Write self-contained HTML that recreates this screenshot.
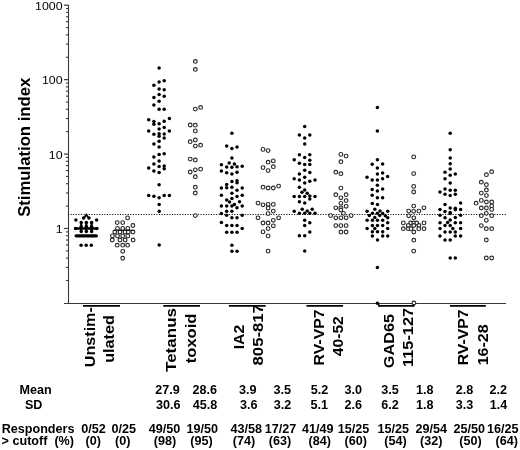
<!DOCTYPE html><html><head><meta charset="utf-8"><style>html,body{margin:0;padding:0;background:#fff;}svg{display:block;}text{font-family:"Liberation Sans",Arial,sans-serif;fill:#000;}</style></head><body>
<svg width="520" height="450" viewBox="0 0 520 450">
<rect width="520" height="450" fill="#fff"/>
<text transform="translate(29.6,147.3) rotate(-90)" text-anchor="middle" font-weight="bold" font-size="16.7">Stimulation index</text>
<line x1="68.5" y1="4.70" x2="68.5" y2="304" stroke="#3a3a3a" stroke-width="1.1"/>
<line x1="64" y1="303.5" x2="506" y2="303.5" stroke="#3a3a3a" stroke-width="1.2"/>
<line x1="64" y1="5.20" x2="68.5" y2="5.20" stroke="#3a3a3a" stroke-width="1.2"/>
<line x1="65.9" y1="57.22" x2="68.5" y2="57.22" stroke="#3a3a3a" stroke-width="1.1"/>
<line x1="65.9" y1="44.12" x2="68.5" y2="44.12" stroke="#3a3a3a" stroke-width="1.1"/>
<line x1="65.9" y1="34.82" x2="68.5" y2="34.82" stroke="#3a3a3a" stroke-width="1.1"/>
<line x1="65.9" y1="27.61" x2="68.5" y2="27.61" stroke="#3a3a3a" stroke-width="1.1"/>
<line x1="65.9" y1="21.71" x2="68.5" y2="21.71" stroke="#3a3a3a" stroke-width="1.1"/>
<line x1="65.9" y1="16.73" x2="68.5" y2="16.73" stroke="#3a3a3a" stroke-width="1.1"/>
<line x1="65.9" y1="12.41" x2="68.5" y2="12.41" stroke="#3a3a3a" stroke-width="1.1"/>
<line x1="65.9" y1="8.61" x2="68.5" y2="8.61" stroke="#3a3a3a" stroke-width="1.1"/>
<line x1="64" y1="79.63" x2="68.5" y2="79.63" stroke="#3a3a3a" stroke-width="1.2"/>
<line x1="65.9" y1="131.65" x2="68.5" y2="131.65" stroke="#3a3a3a" stroke-width="1.1"/>
<line x1="65.9" y1="118.55" x2="68.5" y2="118.55" stroke="#3a3a3a" stroke-width="1.1"/>
<line x1="65.9" y1="109.25" x2="68.5" y2="109.25" stroke="#3a3a3a" stroke-width="1.1"/>
<line x1="65.9" y1="102.04" x2="68.5" y2="102.04" stroke="#3a3a3a" stroke-width="1.1"/>
<line x1="65.9" y1="96.14" x2="68.5" y2="96.14" stroke="#3a3a3a" stroke-width="1.1"/>
<line x1="65.9" y1="91.16" x2="68.5" y2="91.16" stroke="#3a3a3a" stroke-width="1.1"/>
<line x1="65.9" y1="86.84" x2="68.5" y2="86.84" stroke="#3a3a3a" stroke-width="1.1"/>
<line x1="65.9" y1="83.04" x2="68.5" y2="83.04" stroke="#3a3a3a" stroke-width="1.1"/>
<line x1="64" y1="154.06" x2="68.5" y2="154.06" stroke="#3a3a3a" stroke-width="1.2"/>
<line x1="65.9" y1="206.08" x2="68.5" y2="206.08" stroke="#3a3a3a" stroke-width="1.1"/>
<line x1="65.9" y1="192.98" x2="68.5" y2="192.98" stroke="#3a3a3a" stroke-width="1.1"/>
<line x1="65.9" y1="183.68" x2="68.5" y2="183.68" stroke="#3a3a3a" stroke-width="1.1"/>
<line x1="65.9" y1="176.47" x2="68.5" y2="176.47" stroke="#3a3a3a" stroke-width="1.1"/>
<line x1="65.9" y1="170.57" x2="68.5" y2="170.57" stroke="#3a3a3a" stroke-width="1.1"/>
<line x1="65.9" y1="165.59" x2="68.5" y2="165.59" stroke="#3a3a3a" stroke-width="1.1"/>
<line x1="65.9" y1="161.27" x2="68.5" y2="161.27" stroke="#3a3a3a" stroke-width="1.1"/>
<line x1="65.9" y1="157.47" x2="68.5" y2="157.47" stroke="#3a3a3a" stroke-width="1.1"/>
<line x1="64" y1="228.49" x2="68.5" y2="228.49" stroke="#3a3a3a" stroke-width="1.2"/>
<line x1="65.9" y1="280.51" x2="68.5" y2="280.51" stroke="#3a3a3a" stroke-width="1.1"/>
<line x1="65.9" y1="267.41" x2="68.5" y2="267.41" stroke="#3a3a3a" stroke-width="1.1"/>
<line x1="65.9" y1="258.11" x2="68.5" y2="258.11" stroke="#3a3a3a" stroke-width="1.1"/>
<line x1="65.9" y1="250.90" x2="68.5" y2="250.90" stroke="#3a3a3a" stroke-width="1.1"/>
<line x1="65.9" y1="245.00" x2="68.5" y2="245.00" stroke="#3a3a3a" stroke-width="1.1"/>
<line x1="65.9" y1="240.02" x2="68.5" y2="240.02" stroke="#3a3a3a" stroke-width="1.1"/>
<line x1="65.9" y1="235.70" x2="68.5" y2="235.70" stroke="#3a3a3a" stroke-width="1.1"/>
<line x1="65.9" y1="231.90" x2="68.5" y2="231.90" stroke="#3a3a3a" stroke-width="1.1"/>
<text transform="translate(62.6,9.80) scale(1.07,1)" text-anchor="end" font-size="11.6">1000</text>
<text transform="translate(62.6,84.23) scale(1.07,1)" text-anchor="end" font-size="11.6">100</text>
<text transform="translate(62.6,158.66) scale(1.07,1)" text-anchor="end" font-size="11.6">10</text>
<text transform="translate(62.6,233.09) scale(1.07,1)" text-anchor="end" font-size="11.6">1</text>
<line x1="67.9" y1="214.5" x2="506.5" y2="214.5" stroke="#111" stroke-width="1.05" stroke-dasharray="1.15 1.45"/>
<circle cx="127.6" cy="217.9" r="1.85" fill="#fff" stroke="#2a2a2a" stroke-width="1.15"/>
<circle cx="117.2" cy="222.6" r="1.85" fill="#fff" stroke="#2a2a2a" stroke-width="1.15"/>
<circle cx="122.7" cy="222.6" r="1.85" fill="#fff" stroke="#2a2a2a" stroke-width="1.15"/>
<circle cx="132.9" cy="225.5" r="1.85" fill="#fff" stroke="#2a2a2a" stroke-width="1.15"/>
<circle cx="117.5" cy="228.4" r="1.85" fill="#fff" stroke="#2a2a2a" stroke-width="1.15"/>
<circle cx="122.7" cy="228.4" r="1.85" fill="#fff" stroke="#2a2a2a" stroke-width="1.15"/>
<circle cx="127.8" cy="228.4" r="1.85" fill="#fff" stroke="#2a2a2a" stroke-width="1.15"/>
<circle cx="114.8" cy="232" r="1.85" fill="#fff" stroke="#2a2a2a" stroke-width="1.15"/>
<circle cx="120" cy="232" r="1.85" fill="#fff" stroke="#2a2a2a" stroke-width="1.15"/>
<circle cx="125.1" cy="232" r="1.85" fill="#fff" stroke="#2a2a2a" stroke-width="1.15"/>
<circle cx="128.3" cy="232" r="1.85" fill="#fff" stroke="#2a2a2a" stroke-width="1.15"/>
<circle cx="132.9" cy="232" r="1.85" fill="#fff" stroke="#2a2a2a" stroke-width="1.15"/>
<circle cx="112.4" cy="235.9" r="1.85" fill="#fff" stroke="#2a2a2a" stroke-width="1.15"/>
<circle cx="117.5" cy="235.9" r="1.85" fill="#fff" stroke="#2a2a2a" stroke-width="1.15"/>
<circle cx="122.7" cy="235.9" r="1.85" fill="#fff" stroke="#2a2a2a" stroke-width="1.15"/>
<circle cx="127.8" cy="235.9" r="1.85" fill="#fff" stroke="#2a2a2a" stroke-width="1.15"/>
<circle cx="112.3" cy="240" r="1.85" fill="#fff" stroke="#2a2a2a" stroke-width="1.15"/>
<circle cx="120" cy="240" r="1.85" fill="#fff" stroke="#2a2a2a" stroke-width="1.15"/>
<circle cx="125.2" cy="240" r="1.85" fill="#fff" stroke="#2a2a2a" stroke-width="1.15"/>
<circle cx="133.1" cy="240" r="1.85" fill="#fff" stroke="#2a2a2a" stroke-width="1.15"/>
<circle cx="117.2" cy="245.2" r="1.85" fill="#fff" stroke="#2a2a2a" stroke-width="1.15"/>
<circle cx="122.7" cy="245.2" r="1.85" fill="#fff" stroke="#2a2a2a" stroke-width="1.15"/>
<circle cx="127.6" cy="245.2" r="1.85" fill="#fff" stroke="#2a2a2a" stroke-width="1.15"/>
<circle cx="122.7" cy="251.3" r="1.85" fill="#fff" stroke="#2a2a2a" stroke-width="1.15"/>
<circle cx="122.7" cy="258.3" r="1.85" fill="#fff" stroke="#2a2a2a" stroke-width="1.15"/>
<circle cx="195.3" cy="61.4" r="1.85" fill="#fff" stroke="#2a2a2a" stroke-width="1.15"/>
<circle cx="195.3" cy="69.4" r="1.85" fill="#fff" stroke="#2a2a2a" stroke-width="1.15"/>
<circle cx="195.3" cy="109.1" r="1.85" fill="#fff" stroke="#2a2a2a" stroke-width="1.15"/>
<circle cx="200.6" cy="107.4" r="1.85" fill="#fff" stroke="#2a2a2a" stroke-width="1.15"/>
<circle cx="190.2" cy="125" r="1.85" fill="#fff" stroke="#2a2a2a" stroke-width="1.15"/>
<circle cx="195.3" cy="125.2" r="1.85" fill="#fff" stroke="#2a2a2a" stroke-width="1.15"/>
<circle cx="195.3" cy="130.9" r="1.85" fill="#fff" stroke="#2a2a2a" stroke-width="1.15"/>
<circle cx="190.2" cy="141.7" r="1.85" fill="#fff" stroke="#2a2a2a" stroke-width="1.15"/>
<circle cx="195.3" cy="140" r="1.85" fill="#fff" stroke="#2a2a2a" stroke-width="1.15"/>
<circle cx="195.3" cy="146.1" r="1.85" fill="#fff" stroke="#2a2a2a" stroke-width="1.15"/>
<circle cx="200.6" cy="145.2" r="1.85" fill="#fff" stroke="#2a2a2a" stroke-width="1.15"/>
<circle cx="190.2" cy="159.1" r="1.85" fill="#fff" stroke="#2a2a2a" stroke-width="1.15"/>
<circle cx="195.3" cy="160" r="1.85" fill="#fff" stroke="#2a2a2a" stroke-width="1.15"/>
<circle cx="195.3" cy="169.8" r="1.85" fill="#fff" stroke="#2a2a2a" stroke-width="1.15"/>
<circle cx="200.6" cy="169.1" r="1.85" fill="#fff" stroke="#2a2a2a" stroke-width="1.15"/>
<circle cx="190.2" cy="172" r="1.85" fill="#fff" stroke="#2a2a2a" stroke-width="1.15"/>
<circle cx="195.3" cy="176.7" r="1.85" fill="#fff" stroke="#2a2a2a" stroke-width="1.15"/>
<circle cx="195.3" cy="187.2" r="1.85" fill="#fff" stroke="#2a2a2a" stroke-width="1.15"/>
<circle cx="195.3" cy="193" r="1.85" fill="#fff" stroke="#2a2a2a" stroke-width="1.15"/>
<circle cx="195.3" cy="215.6" r="1.85" fill="#fff" stroke="#2a2a2a" stroke-width="1.15"/>
<circle cx="263" cy="149.4" r="1.85" fill="#fff" stroke="#2a2a2a" stroke-width="1.15"/>
<circle cx="268.1" cy="150.6" r="1.85" fill="#fff" stroke="#2a2a2a" stroke-width="1.15"/>
<circle cx="268.1" cy="162.2" r="1.85" fill="#fff" stroke="#2a2a2a" stroke-width="1.15"/>
<circle cx="273.3" cy="160.9" r="1.85" fill="#fff" stroke="#2a2a2a" stroke-width="1.15"/>
<circle cx="263" cy="167.6" r="1.85" fill="#fff" stroke="#2a2a2a" stroke-width="1.15"/>
<circle cx="268.1" cy="170.6" r="1.85" fill="#fff" stroke="#2a2a2a" stroke-width="1.15"/>
<circle cx="273.3" cy="166.7" r="1.85" fill="#fff" stroke="#2a2a2a" stroke-width="1.15"/>
<circle cx="263" cy="187.2" r="1.85" fill="#fff" stroke="#2a2a2a" stroke-width="1.15"/>
<circle cx="268.1" cy="188" r="1.85" fill="#fff" stroke="#2a2a2a" stroke-width="1.15"/>
<circle cx="273.3" cy="188" r="1.85" fill="#fff" stroke="#2a2a2a" stroke-width="1.15"/>
<circle cx="278.6" cy="186.1" r="1.85" fill="#fff" stroke="#2a2a2a" stroke-width="1.15"/>
<circle cx="258" cy="203.1" r="1.85" fill="#fff" stroke="#2a2a2a" stroke-width="1.15"/>
<circle cx="263" cy="204.8" r="1.85" fill="#fff" stroke="#2a2a2a" stroke-width="1.15"/>
<circle cx="268.1" cy="204.4" r="1.85" fill="#fff" stroke="#2a2a2a" stroke-width="1.15"/>
<circle cx="273.3" cy="204.4" r="1.85" fill="#fff" stroke="#2a2a2a" stroke-width="1.15"/>
<circle cx="268.1" cy="208" r="1.85" fill="#fff" stroke="#2a2a2a" stroke-width="1.15"/>
<circle cx="273.3" cy="211.1" r="1.85" fill="#fff" stroke="#2a2a2a" stroke-width="1.15"/>
<circle cx="268.1" cy="213.6" r="1.85" fill="#fff" stroke="#2a2a2a" stroke-width="1.15"/>
<circle cx="258" cy="217.8" r="1.85" fill="#fff" stroke="#2a2a2a" stroke-width="1.15"/>
<circle cx="278.6" cy="217.8" r="1.85" fill="#fff" stroke="#2a2a2a" stroke-width="1.15"/>
<circle cx="273.3" cy="220.3" r="1.85" fill="#fff" stroke="#2a2a2a" stroke-width="1.15"/>
<circle cx="263" cy="223" r="1.85" fill="#fff" stroke="#2a2a2a" stroke-width="1.15"/>
<circle cx="268.1" cy="223" r="1.85" fill="#fff" stroke="#2a2a2a" stroke-width="1.15"/>
<circle cx="273.3" cy="225.8" r="1.85" fill="#fff" stroke="#2a2a2a" stroke-width="1.15"/>
<circle cx="268.1" cy="228.6" r="1.85" fill="#fff" stroke="#2a2a2a" stroke-width="1.15"/>
<circle cx="263" cy="231.9" r="1.85" fill="#fff" stroke="#2a2a2a" stroke-width="1.15"/>
<circle cx="268.1" cy="235.9" r="1.85" fill="#fff" stroke="#2a2a2a" stroke-width="1.15"/>
<circle cx="268.1" cy="251.1" r="1.85" fill="#fff" stroke="#2a2a2a" stroke-width="1.15"/>
<circle cx="340.9" cy="154.4" r="1.85" fill="#fff" stroke="#2a2a2a" stroke-width="1.15"/>
<circle cx="346.1" cy="156.1" r="1.85" fill="#fff" stroke="#2a2a2a" stroke-width="1.15"/>
<circle cx="340.9" cy="161.7" r="1.85" fill="#fff" stroke="#2a2a2a" stroke-width="1.15"/>
<circle cx="335.8" cy="172.2" r="1.85" fill="#fff" stroke="#2a2a2a" stroke-width="1.15"/>
<circle cx="340.9" cy="173.7" r="1.85" fill="#fff" stroke="#2a2a2a" stroke-width="1.15"/>
<circle cx="340.9" cy="188.1" r="1.85" fill="#fff" stroke="#2a2a2a" stroke-width="1.15"/>
<circle cx="335.8" cy="194.7" r="1.85" fill="#fff" stroke="#2a2a2a" stroke-width="1.15"/>
<circle cx="346.1" cy="194.7" r="1.85" fill="#fff" stroke="#2a2a2a" stroke-width="1.15"/>
<circle cx="340.9" cy="197.8" r="1.85" fill="#fff" stroke="#2a2a2a" stroke-width="1.15"/>
<circle cx="346.1" cy="200.6" r="1.85" fill="#fff" stroke="#2a2a2a" stroke-width="1.15"/>
<circle cx="340.9" cy="203.3" r="1.85" fill="#fff" stroke="#2a2a2a" stroke-width="1.15"/>
<circle cx="346.1" cy="206.3" r="1.85" fill="#fff" stroke="#2a2a2a" stroke-width="1.15"/>
<circle cx="335.8" cy="207.8" r="1.85" fill="#fff" stroke="#2a2a2a" stroke-width="1.15"/>
<circle cx="340.9" cy="207.8" r="1.85" fill="#fff" stroke="#2a2a2a" stroke-width="1.15"/>
<circle cx="340.9" cy="210" r="1.85" fill="#fff" stroke="#2a2a2a" stroke-width="1.15"/>
<circle cx="343.5" cy="213.3" r="1.85" fill="#fff" stroke="#2a2a2a" stroke-width="1.15"/>
<circle cx="330.6" cy="215.6" r="1.85" fill="#fff" stroke="#2a2a2a" stroke-width="1.15"/>
<circle cx="351.1" cy="215.6" r="1.85" fill="#fff" stroke="#2a2a2a" stroke-width="1.15"/>
<circle cx="335.8" cy="217.8" r="1.85" fill="#fff" stroke="#2a2a2a" stroke-width="1.15"/>
<circle cx="340.9" cy="217.8" r="1.85" fill="#fff" stroke="#2a2a2a" stroke-width="1.15"/>
<circle cx="346.1" cy="217.8" r="1.85" fill="#fff" stroke="#2a2a2a" stroke-width="1.15"/>
<circle cx="335.8" cy="225.6" r="1.85" fill="#fff" stroke="#2a2a2a" stroke-width="1.15"/>
<circle cx="340.9" cy="225.6" r="1.85" fill="#fff" stroke="#2a2a2a" stroke-width="1.15"/>
<circle cx="346.1" cy="225.6" r="1.85" fill="#fff" stroke="#2a2a2a" stroke-width="1.15"/>
<circle cx="340.9" cy="232" r="1.85" fill="#fff" stroke="#2a2a2a" stroke-width="1.15"/>
<circle cx="346.1" cy="232" r="1.85" fill="#fff" stroke="#2a2a2a" stroke-width="1.15"/>
<circle cx="413.7" cy="156.9" r="1.85" fill="#fff" stroke="#2a2a2a" stroke-width="1.15"/>
<circle cx="413.7" cy="173.6" r="1.85" fill="#fff" stroke="#2a2a2a" stroke-width="1.15"/>
<circle cx="413.7" cy="186.4" r="1.85" fill="#fff" stroke="#2a2a2a" stroke-width="1.15"/>
<circle cx="413.7" cy="192" r="1.85" fill="#fff" stroke="#2a2a2a" stroke-width="1.15"/>
<circle cx="413.7" cy="206.1" r="1.85" fill="#fff" stroke="#2a2a2a" stroke-width="1.15"/>
<circle cx="423.9" cy="207.8" r="1.85" fill="#fff" stroke="#2a2a2a" stroke-width="1.15"/>
<circle cx="408.7" cy="211.1" r="1.85" fill="#fff" stroke="#2a2a2a" stroke-width="1.15"/>
<circle cx="413.7" cy="211.3" r="1.85" fill="#fff" stroke="#2a2a2a" stroke-width="1.15"/>
<circle cx="418.9" cy="211.1" r="1.85" fill="#fff" stroke="#2a2a2a" stroke-width="1.15"/>
<circle cx="408.7" cy="215.8" r="1.85" fill="#fff" stroke="#2a2a2a" stroke-width="1.15"/>
<circle cx="413.8" cy="217.8" r="1.85" fill="#fff" stroke="#2a2a2a" stroke-width="1.15"/>
<circle cx="403.3" cy="222.9" r="1.85" fill="#fff" stroke="#2a2a2a" stroke-width="1.15"/>
<circle cx="424" cy="222.9" r="1.85" fill="#fff" stroke="#2a2a2a" stroke-width="1.15"/>
<circle cx="410.7" cy="223" r="1.85" fill="#fff" stroke="#2a2a2a" stroke-width="1.15"/>
<circle cx="413.8" cy="223" r="1.85" fill="#fff" stroke="#2a2a2a" stroke-width="1.15"/>
<circle cx="416.8" cy="223" r="1.85" fill="#fff" stroke="#2a2a2a" stroke-width="1.15"/>
<circle cx="408.3" cy="225.5" r="1.85" fill="#fff" stroke="#2a2a2a" stroke-width="1.15"/>
<circle cx="413.8" cy="225.5" r="1.85" fill="#fff" stroke="#2a2a2a" stroke-width="1.15"/>
<circle cx="419" cy="225.5" r="1.85" fill="#fff" stroke="#2a2a2a" stroke-width="1.15"/>
<circle cx="403.3" cy="228.7" r="1.85" fill="#fff" stroke="#2a2a2a" stroke-width="1.15"/>
<circle cx="408.3" cy="228.7" r="1.85" fill="#fff" stroke="#2a2a2a" stroke-width="1.15"/>
<circle cx="411" cy="228.7" r="1.85" fill="#fff" stroke="#2a2a2a" stroke-width="1.15"/>
<circle cx="418.7" cy="228.7" r="1.85" fill="#fff" stroke="#2a2a2a" stroke-width="1.15"/>
<circle cx="424" cy="228.7" r="1.85" fill="#fff" stroke="#2a2a2a" stroke-width="1.15"/>
<circle cx="413.8" cy="232" r="1.85" fill="#fff" stroke="#2a2a2a" stroke-width="1.15"/>
<circle cx="413.8" cy="240.2" r="1.85" fill="#fff" stroke="#2a2a2a" stroke-width="1.15"/>
<circle cx="413.7" cy="251.1" r="1.85" fill="#fff" stroke="#2a2a2a" stroke-width="1.15"/>
<circle cx="413.9" cy="303.0" r="1.85" fill="#fff" stroke="#2a2a2a" stroke-width="1.15"/>
<circle cx="491.7" cy="171.7" r="1.85" fill="#fff" stroke="#2a2a2a" stroke-width="1.15"/>
<circle cx="486.4" cy="174.7" r="1.85" fill="#fff" stroke="#2a2a2a" stroke-width="1.15"/>
<circle cx="481.3" cy="182.2" r="1.85" fill="#fff" stroke="#2a2a2a" stroke-width="1.15"/>
<circle cx="486.4" cy="184.7" r="1.85" fill="#fff" stroke="#2a2a2a" stroke-width="1.15"/>
<circle cx="486.4" cy="190" r="1.85" fill="#fff" stroke="#2a2a2a" stroke-width="1.15"/>
<circle cx="481.3" cy="193.1" r="1.85" fill="#fff" stroke="#2a2a2a" stroke-width="1.15"/>
<circle cx="486.4" cy="195.6" r="1.85" fill="#fff" stroke="#2a2a2a" stroke-width="1.15"/>
<circle cx="481.3" cy="200.4" r="1.85" fill="#fff" stroke="#2a2a2a" stroke-width="1.15"/>
<circle cx="476.1" cy="203.2" r="1.85" fill="#fff" stroke="#2a2a2a" stroke-width="1.15"/>
<circle cx="486.4" cy="202" r="1.85" fill="#fff" stroke="#2a2a2a" stroke-width="1.15"/>
<circle cx="491.7" cy="202" r="1.85" fill="#fff" stroke="#2a2a2a" stroke-width="1.15"/>
<circle cx="481.3" cy="208" r="1.85" fill="#fff" stroke="#2a2a2a" stroke-width="1.15"/>
<circle cx="486.4" cy="208" r="1.85" fill="#fff" stroke="#2a2a2a" stroke-width="1.15"/>
<circle cx="491.7" cy="205.9" r="1.85" fill="#fff" stroke="#2a2a2a" stroke-width="1.15"/>
<circle cx="491.7" cy="209.4" r="1.85" fill="#fff" stroke="#2a2a2a" stroke-width="1.15"/>
<circle cx="486.3" cy="213.3" r="1.85" fill="#fff" stroke="#2a2a2a" stroke-width="1.15"/>
<circle cx="481.3" cy="215.7" r="1.85" fill="#fff" stroke="#2a2a2a" stroke-width="1.15"/>
<circle cx="491.7" cy="215.7" r="1.85" fill="#fff" stroke="#2a2a2a" stroke-width="1.15"/>
<circle cx="486.3" cy="220.3" r="1.85" fill="#fff" stroke="#2a2a2a" stroke-width="1.15"/>
<circle cx="481.3" cy="225.6" r="1.85" fill="#fff" stroke="#2a2a2a" stroke-width="1.15"/>
<circle cx="486.3" cy="228.7" r="1.85" fill="#fff" stroke="#2a2a2a" stroke-width="1.15"/>
<circle cx="491.7" cy="228.7" r="1.85" fill="#fff" stroke="#2a2a2a" stroke-width="1.15"/>
<circle cx="486.3" cy="240" r="1.85" fill="#fff" stroke="#2a2a2a" stroke-width="1.15"/>
<circle cx="486.3" cy="258" r="1.85" fill="#fff" stroke="#2a2a2a" stroke-width="1.15"/>
<circle cx="491.7" cy="258" r="1.85" fill="#fff" stroke="#2a2a2a" stroke-width="1.15"/>
<line x1="113.8" y1="230.3" x2="133.7" y2="230.3" stroke="#111" stroke-width="1"/>
<line x1="75.6" y1="228.5" x2="96.9" y2="228.5" stroke="#000" stroke-width="2.4" stroke-linecap="round"/>
<line x1="76.1" y1="235.8" x2="96.4" y2="235.8" stroke="#000" stroke-width="3.2" stroke-linecap="round"/>
<polyline points="84.3,217.6 86.3,214.7 88.3,217.6" fill="none" stroke="#000" stroke-width="1.8"/>
<line x1="81.2" y1="222.4" x2="81.2" y2="232.0" stroke="#000" stroke-width="2.2"/>
<line x1="86.3" y1="222.4" x2="86.3" y2="232.0" stroke="#000" stroke-width="2.2"/>
<line x1="91.6" y1="222.4" x2="91.6" y2="232.0" stroke="#000" stroke-width="2.2"/>
<circle cx="83.6" cy="218.0" r="1.75" fill="#000"/>
<circle cx="89.0" cy="218.0" r="1.75" fill="#000"/>
<circle cx="75.9" cy="220.1" r="1.75" fill="#000"/>
<circle cx="96.6" cy="220.1" r="1.75" fill="#000"/>
<circle cx="81.2" cy="222.4" r="1.75" fill="#000"/>
<circle cx="81.2" cy="226.4" r="1.75" fill="#000"/>
<circle cx="81.2" cy="231.4" r="1.75" fill="#000"/>
<circle cx="86.3" cy="222.4" r="1.75" fill="#000"/>
<circle cx="86.3" cy="226.4" r="1.75" fill="#000"/>
<circle cx="86.3" cy="231.4" r="1.75" fill="#000"/>
<circle cx="91.6" cy="222.4" r="1.75" fill="#000"/>
<circle cx="91.6" cy="226.4" r="1.75" fill="#000"/>
<circle cx="91.6" cy="231.4" r="1.75" fill="#000"/>
<circle cx="75.6" cy="228.5" r="1.75" fill="#000"/>
<circle cx="96.9" cy="228.5" r="1.75" fill="#000"/>
<circle cx="81.1" cy="245.3" r="1.75" fill="#000"/>
<circle cx="86.2" cy="245.3" r="1.75" fill="#000"/>
<circle cx="91.3" cy="245.3" r="1.75" fill="#000"/>
<circle cx="159.1" cy="68.0" r="1.75" fill="#000"/>
<circle cx="159.1" cy="81.9" r="1.75" fill="#000"/>
<circle cx="164.2" cy="80.8" r="1.75" fill="#000"/>
<circle cx="153.9" cy="85.3" r="1.75" fill="#000"/>
<circle cx="159.1" cy="89.1" r="1.75" fill="#000"/>
<circle cx="164.2" cy="89.8" r="1.75" fill="#000"/>
<circle cx="159.1" cy="94.4" r="1.75" fill="#000"/>
<circle cx="164.2" cy="96.3" r="1.75" fill="#000"/>
<circle cx="153.9" cy="97.6" r="1.75" fill="#000"/>
<circle cx="159.1" cy="101.3" r="1.75" fill="#000"/>
<circle cx="153.9" cy="104.9" r="1.75" fill="#000"/>
<circle cx="159.1" cy="109.2" r="1.75" fill="#000"/>
<circle cx="164.2" cy="109.2" r="1.75" fill="#000"/>
<circle cx="148.7" cy="119.7" r="1.75" fill="#000"/>
<circle cx="169.4" cy="118.6" r="1.75" fill="#000"/>
<circle cx="153.9" cy="121.5" r="1.75" fill="#000"/>
<circle cx="153.9" cy="124.3" r="1.75" fill="#000"/>
<circle cx="159.1" cy="123.7" r="1.75" fill="#000"/>
<circle cx="164.2" cy="121.3" r="1.75" fill="#000"/>
<circle cx="159.1" cy="128.9" r="1.75" fill="#000"/>
<circle cx="164.2" cy="127.6" r="1.75" fill="#000"/>
<circle cx="148.7" cy="131.1" r="1.75" fill="#000"/>
<circle cx="169.4" cy="130.9" r="1.75" fill="#000"/>
<circle cx="153.9" cy="134.2" r="1.75" fill="#000"/>
<circle cx="159.1" cy="133.7" r="1.75" fill="#000"/>
<circle cx="159.1" cy="136.2" r="1.75" fill="#000"/>
<circle cx="164.2" cy="134.1" r="1.75" fill="#000"/>
<circle cx="164.2" cy="138.1" r="1.75" fill="#000"/>
<circle cx="159.1" cy="141.3" r="1.75" fill="#000"/>
<circle cx="153.9" cy="143.9" r="1.75" fill="#000"/>
<circle cx="159.1" cy="146.9" r="1.75" fill="#000"/>
<circle cx="159.1" cy="154.6" r="1.75" fill="#000"/>
<circle cx="164.2" cy="153.7" r="1.75" fill="#000"/>
<circle cx="153.9" cy="157" r="1.75" fill="#000"/>
<circle cx="159.1" cy="161.1" r="1.75" fill="#000"/>
<circle cx="153.9" cy="164.1" r="1.75" fill="#000"/>
<circle cx="159.1" cy="166.4" r="1.75" fill="#000"/>
<circle cx="164.2" cy="166.1" r="1.75" fill="#000"/>
<circle cx="164.2" cy="168.7" r="1.75" fill="#000"/>
<circle cx="148.7" cy="168" r="1.75" fill="#000"/>
<circle cx="153.9" cy="171.1" r="1.75" fill="#000"/>
<circle cx="159.1" cy="172.4" r="1.75" fill="#000"/>
<circle cx="159.1" cy="184.7" r="1.75" fill="#000"/>
<circle cx="148.7" cy="195.4" r="1.75" fill="#000"/>
<circle cx="153.9" cy="196.2" r="1.75" fill="#000"/>
<circle cx="159.1" cy="197.7" r="1.75" fill="#000"/>
<circle cx="164.2" cy="195.4" r="1.75" fill="#000"/>
<circle cx="169.4" cy="195.4" r="1.75" fill="#000"/>
<circle cx="159.2" cy="204.4" r="1.75" fill="#000"/>
<circle cx="159.2" cy="211.3" r="1.75" fill="#000"/>
<circle cx="159.2" cy="244.9" r="1.75" fill="#000"/>
<circle cx="231.9" cy="133.3" r="1.75" fill="#000"/>
<circle cx="226.7" cy="146.1" r="1.75" fill="#000"/>
<circle cx="231.9" cy="148.6" r="1.75" fill="#000"/>
<circle cx="237" cy="146.9" r="1.75" fill="#000"/>
<circle cx="231.9" cy="158" r="1.75" fill="#000"/>
<circle cx="229.2" cy="163.1" r="1.75" fill="#000"/>
<circle cx="234.4" cy="163.9" r="1.75" fill="#000"/>
<circle cx="221.4" cy="164.7" r="1.75" fill="#000"/>
<circle cx="226.7" cy="166.9" r="1.75" fill="#000"/>
<circle cx="231.9" cy="167.2" r="1.75" fill="#000"/>
<circle cx="237" cy="166.7" r="1.75" fill="#000"/>
<circle cx="242.2" cy="166.3" r="1.75" fill="#000"/>
<circle cx="221.4" cy="171.1" r="1.75" fill="#000"/>
<circle cx="226.7" cy="172.8" r="1.75" fill="#000"/>
<circle cx="231.9" cy="173.9" r="1.75" fill="#000"/>
<circle cx="237" cy="172.2" r="1.75" fill="#000"/>
<circle cx="231.9" cy="181.4" r="1.75" fill="#000"/>
<circle cx="237" cy="180.8" r="1.75" fill="#000"/>
<circle cx="237" cy="182.8" r="1.75" fill="#000"/>
<circle cx="226.7" cy="184.4" r="1.75" fill="#000"/>
<circle cx="226.7" cy="187.8" r="1.75" fill="#000"/>
<circle cx="221.4" cy="188" r="1.75" fill="#000"/>
<circle cx="231.9" cy="187.2" r="1.75" fill="#000"/>
<circle cx="242.2" cy="188" r="1.75" fill="#000"/>
<circle cx="237" cy="190.2" r="1.75" fill="#000"/>
<circle cx="231.9" cy="193.3" r="1.75" fill="#000"/>
<circle cx="221.4" cy="195.3" r="1.75" fill="#000"/>
<circle cx="237" cy="196.4" r="1.75" fill="#000"/>
<circle cx="242.2" cy="195.3" r="1.75" fill="#000"/>
<circle cx="226.7" cy="200" r="1.75" fill="#000"/>
<circle cx="231.9" cy="198.5" r="1.75" fill="#000"/>
<circle cx="229.5" cy="202" r="1.75" fill="#000"/>
<circle cx="239.5" cy="201.7" r="1.75" fill="#000"/>
<circle cx="221.4" cy="206.1" r="1.75" fill="#000"/>
<circle cx="226.7" cy="206.1" r="1.75" fill="#000"/>
<circle cx="231.9" cy="206.1" r="1.75" fill="#000"/>
<circle cx="242.2" cy="206.1" r="1.75" fill="#000"/>
<circle cx="234.4" cy="204.5" r="1.75" fill="#000"/>
<circle cx="237" cy="207.7" r="1.75" fill="#000"/>
<circle cx="226.7" cy="211.3" r="1.75" fill="#000"/>
<circle cx="231.9" cy="211.3" r="1.75" fill="#000"/>
<circle cx="221.4" cy="213.6" r="1.75" fill="#000"/>
<circle cx="226.7" cy="215.3" r="1.75" fill="#000"/>
<circle cx="242.2" cy="215.3" r="1.75" fill="#000"/>
<circle cx="231.9" cy="217.8" r="1.75" fill="#000"/>
<circle cx="237" cy="217.8" r="1.75" fill="#000"/>
<circle cx="221.4" cy="222.6" r="1.75" fill="#000"/>
<circle cx="226.7" cy="225.6" r="1.75" fill="#000"/>
<circle cx="231.9" cy="225.6" r="1.75" fill="#000"/>
<circle cx="237" cy="225.6" r="1.75" fill="#000"/>
<circle cx="242.2" cy="228.6" r="1.75" fill="#000"/>
<circle cx="226.7" cy="232.2" r="1.75" fill="#000"/>
<circle cx="231.9" cy="232.2" r="1.75" fill="#000"/>
<circle cx="237" cy="232.2" r="1.75" fill="#000"/>
<circle cx="231.9" cy="245.3" r="1.75" fill="#000"/>
<circle cx="231.9" cy="251.3" r="1.75" fill="#000"/>
<circle cx="237" cy="251.3" r="1.75" fill="#000"/>
<circle cx="304.7" cy="126.4" r="1.75" fill="#000"/>
<circle cx="299.4" cy="135" r="1.75" fill="#000"/>
<circle cx="304.7" cy="138" r="1.75" fill="#000"/>
<circle cx="309.8" cy="135" r="1.75" fill="#000"/>
<circle cx="304.7" cy="144.1" r="1.75" fill="#000"/>
<circle cx="299.4" cy="154.7" r="1.75" fill="#000"/>
<circle cx="309.8" cy="154.7" r="1.75" fill="#000"/>
<circle cx="304.7" cy="157.4" r="1.75" fill="#000"/>
<circle cx="294.2" cy="159.8" r="1.75" fill="#000"/>
<circle cx="309.8" cy="160.3" r="1.75" fill="#000"/>
<circle cx="299.4" cy="163.3" r="1.75" fill="#000"/>
<circle cx="304.7" cy="164.4" r="1.75" fill="#000"/>
<circle cx="309.8" cy="164.6" r="1.75" fill="#000"/>
<circle cx="304.7" cy="170.3" r="1.75" fill="#000"/>
<circle cx="309.8" cy="172.4" r="1.75" fill="#000"/>
<circle cx="299.4" cy="174.1" r="1.75" fill="#000"/>
<circle cx="294.2" cy="178.7" r="1.75" fill="#000"/>
<circle cx="304.7" cy="177.2" r="1.75" fill="#000"/>
<circle cx="299.4" cy="180" r="1.75" fill="#000"/>
<circle cx="315" cy="180" r="1.75" fill="#000"/>
<circle cx="309.8" cy="181.3" r="1.75" fill="#000"/>
<circle cx="304.7" cy="183.1" r="1.75" fill="#000"/>
<circle cx="299.4" cy="187.2" r="1.75" fill="#000"/>
<circle cx="304.7" cy="190" r="1.75" fill="#000"/>
<circle cx="302" cy="192.2" r="1.75" fill="#000"/>
<circle cx="307.2" cy="193.3" r="1.75" fill="#000"/>
<circle cx="309.8" cy="196.1" r="1.75" fill="#000"/>
<circle cx="309.8" cy="198.9" r="1.75" fill="#000"/>
<circle cx="294.2" cy="196.4" r="1.75" fill="#000"/>
<circle cx="299.4" cy="196.4" r="1.75" fill="#000"/>
<circle cx="304.7" cy="196.4" r="1.75" fill="#000"/>
<circle cx="315" cy="196.4" r="1.75" fill="#000"/>
<circle cx="299.4" cy="201.7" r="1.75" fill="#000"/>
<circle cx="304.7" cy="203.1" r="1.75" fill="#000"/>
<circle cx="302.2" cy="209.2" r="1.75" fill="#000"/>
<circle cx="312.2" cy="209.2" r="1.75" fill="#000"/>
<circle cx="294.2" cy="211.3" r="1.75" fill="#000"/>
<circle cx="307.2" cy="211.1" r="1.75" fill="#000"/>
<circle cx="299.4" cy="213.3" r="1.75" fill="#000"/>
<circle cx="304.7" cy="213.3" r="1.75" fill="#000"/>
<circle cx="309.8" cy="213.3" r="1.75" fill="#000"/>
<circle cx="315" cy="213.3" r="1.75" fill="#000"/>
<circle cx="304.7" cy="220.2" r="1.75" fill="#000"/>
<circle cx="309.8" cy="222.8" r="1.75" fill="#000"/>
<circle cx="304.7" cy="225.6" r="1.75" fill="#000"/>
<circle cx="309.8" cy="232" r="1.75" fill="#000"/>
<circle cx="299.4" cy="235.8" r="1.75" fill="#000"/>
<circle cx="304.7" cy="235.8" r="1.75" fill="#000"/>
<circle cx="304.7" cy="251.1" r="1.75" fill="#000"/>
<circle cx="377.4" cy="107.6" r="1.75" fill="#000"/>
<circle cx="377.4" cy="131.1" r="1.75" fill="#000"/>
<circle cx="377.4" cy="159.8" r="1.75" fill="#000"/>
<circle cx="372.2" cy="164.2" r="1.75" fill="#000"/>
<circle cx="382.6" cy="163.9" r="1.75" fill="#000"/>
<circle cx="377.4" cy="168.1" r="1.75" fill="#000"/>
<circle cx="377.4" cy="174.1" r="1.75" fill="#000"/>
<circle cx="382.6" cy="173" r="1.75" fill="#000"/>
<circle cx="367" cy="177.2" r="1.75" fill="#000"/>
<circle cx="372.2" cy="180" r="1.75" fill="#000"/>
<circle cx="377.4" cy="180" r="1.75" fill="#000"/>
<circle cx="382.6" cy="178.7" r="1.75" fill="#000"/>
<circle cx="387.6" cy="176.4" r="1.75" fill="#000"/>
<circle cx="377.4" cy="185.3" r="1.75" fill="#000"/>
<circle cx="372.2" cy="189.4" r="1.75" fill="#000"/>
<circle cx="382.6" cy="188.9" r="1.75" fill="#000"/>
<circle cx="377.4" cy="191.1" r="1.75" fill="#000"/>
<circle cx="372.2" cy="195.3" r="1.75" fill="#000"/>
<circle cx="377.4" cy="197.8" r="1.75" fill="#000"/>
<circle cx="382.6" cy="197.8" r="1.75" fill="#000"/>
<circle cx="372.3" cy="203.4" r="1.75" fill="#000"/>
<circle cx="377.5" cy="204.4" r="1.75" fill="#000"/>
<circle cx="374.8" cy="209.3" r="1.75" fill="#000"/>
<circle cx="367.1" cy="211.3" r="1.75" fill="#000"/>
<circle cx="387.7" cy="211.3" r="1.75" fill="#000"/>
<circle cx="380" cy="211.1" r="1.75" fill="#000"/>
<circle cx="372.4" cy="213.3" r="1.75" fill="#000"/>
<circle cx="377.3" cy="213.3" r="1.75" fill="#000"/>
<circle cx="382.7" cy="213.5" r="1.75" fill="#000"/>
<circle cx="369.3" cy="215.6" r="1.75" fill="#000"/>
<circle cx="379.7" cy="215.6" r="1.75" fill="#000"/>
<circle cx="385.3" cy="215.8" r="1.75" fill="#000"/>
<circle cx="374.8" cy="217.5" r="1.75" fill="#000"/>
<circle cx="387.7" cy="217.8" r="1.75" fill="#000"/>
<circle cx="367.1" cy="220.3" r="1.75" fill="#000"/>
<circle cx="372.4" cy="220.3" r="1.75" fill="#000"/>
<circle cx="377.5" cy="220.3" r="1.75" fill="#000"/>
<circle cx="382.7" cy="220.3" r="1.75" fill="#000"/>
<circle cx="387.7" cy="222.8" r="1.75" fill="#000"/>
<circle cx="372.4" cy="225.6" r="1.75" fill="#000"/>
<circle cx="377.5" cy="225.6" r="1.75" fill="#000"/>
<circle cx="382.7" cy="225.6" r="1.75" fill="#000"/>
<circle cx="367.1" cy="228.4" r="1.75" fill="#000"/>
<circle cx="374.8" cy="228.6" r="1.75" fill="#000"/>
<circle cx="387.7" cy="228.4" r="1.75" fill="#000"/>
<circle cx="372.4" cy="231.8" r="1.75" fill="#000"/>
<circle cx="377.5" cy="231.8" r="1.75" fill="#000"/>
<circle cx="382.7" cy="231.8" r="1.75" fill="#000"/>
<circle cx="372.4" cy="236" r="1.75" fill="#000"/>
<circle cx="382.7" cy="236" r="1.75" fill="#000"/>
<circle cx="387.7" cy="236" r="1.75" fill="#000"/>
<circle cx="377.5" cy="240" r="1.75" fill="#000"/>
<circle cx="377.4" cy="267.6" r="1.75" fill="#000"/>
<circle cx="377.4" cy="303.2" r="1.75" fill="#000"/>
<circle cx="450.2" cy="133.3" r="1.75" fill="#000"/>
<circle cx="450.2" cy="149.7" r="1.75" fill="#000"/>
<circle cx="450.2" cy="158.1" r="1.75" fill="#000"/>
<circle cx="450.2" cy="163.7" r="1.75" fill="#000"/>
<circle cx="450.2" cy="169.1" r="1.75" fill="#000"/>
<circle cx="445" cy="172.2" r="1.75" fill="#000"/>
<circle cx="450.2" cy="175.2" r="1.75" fill="#000"/>
<circle cx="455.3" cy="174" r="1.75" fill="#000"/>
<circle cx="445" cy="178.7" r="1.75" fill="#000"/>
<circle cx="450.2" cy="183.1" r="1.75" fill="#000"/>
<circle cx="445" cy="189.1" r="1.75" fill="#000"/>
<circle cx="450.2" cy="190.2" r="1.75" fill="#000"/>
<circle cx="455.3" cy="190.2" r="1.75" fill="#000"/>
<circle cx="440" cy="192" r="1.75" fill="#000"/>
<circle cx="445" cy="194.2" r="1.75" fill="#000"/>
<circle cx="450.2" cy="195.6" r="1.75" fill="#000"/>
<circle cx="455.3" cy="194.2" r="1.75" fill="#000"/>
<circle cx="460.6" cy="203.1" r="1.75" fill="#000"/>
<circle cx="445" cy="204.4" r="1.75" fill="#000"/>
<circle cx="450.2" cy="208" r="1.75" fill="#000"/>
<circle cx="455.3" cy="208.3" r="1.75" fill="#000"/>
<circle cx="455.3" cy="209.8" r="1.75" fill="#000"/>
<circle cx="440" cy="209.4" r="1.75" fill="#000"/>
<circle cx="460.6" cy="209.4" r="1.75" fill="#000"/>
<circle cx="445" cy="211.5" r="1.75" fill="#000"/>
<circle cx="450.2" cy="212.4" r="1.75" fill="#000"/>
<circle cx="450.2" cy="213.6" r="1.75" fill="#000"/>
<circle cx="440" cy="215.2" r="1.75" fill="#000"/>
<circle cx="460.6" cy="215.2" r="1.75" fill="#000"/>
<circle cx="445" cy="217.8" r="1.75" fill="#000"/>
<circle cx="455.3" cy="217.6" r="1.75" fill="#000"/>
<circle cx="450.2" cy="219.9" r="1.75" fill="#000"/>
<circle cx="440" cy="222.8" r="1.75" fill="#000"/>
<circle cx="447.6" cy="222.4" r="1.75" fill="#000"/>
<circle cx="455.3" cy="222.8" r="1.75" fill="#000"/>
<circle cx="460.6" cy="222.8" r="1.75" fill="#000"/>
<circle cx="445" cy="225.6" r="1.75" fill="#000"/>
<circle cx="450.2" cy="225.6" r="1.75" fill="#000"/>
<circle cx="440" cy="228.6" r="1.75" fill="#000"/>
<circle cx="452.8" cy="228.6" r="1.75" fill="#000"/>
<circle cx="460.6" cy="228.6" r="1.75" fill="#000"/>
<circle cx="445" cy="232" r="1.75" fill="#000"/>
<circle cx="450.2" cy="232" r="1.75" fill="#000"/>
<circle cx="455.3" cy="232" r="1.75" fill="#000"/>
<circle cx="440" cy="235.9" r="1.75" fill="#000"/>
<circle cx="455.3" cy="235.9" r="1.75" fill="#000"/>
<circle cx="460.6" cy="235.9" r="1.75" fill="#000"/>
<circle cx="445" cy="240" r="1.75" fill="#000"/>
<circle cx="450.2" cy="240" r="1.75" fill="#000"/>
<circle cx="450.2" cy="258.1" r="1.75" fill="#000"/>
<circle cx="455.3" cy="258.1" r="1.75" fill="#000"/>
<line x1="83" y1="305.9" x2="120" y2="305.9" stroke="#000" stroke-width="1.7"/>
<line x1="163.3" y1="305.9" x2="200" y2="305.9" stroke="#000" stroke-width="1.7"/>
<line x1="228.9" y1="305.9" x2="265.7" y2="305.9" stroke="#000" stroke-width="1.7"/>
<line x1="306.5" y1="305.9" x2="343.1" y2="305.9" stroke="#000" stroke-width="1.7"/>
<line x1="378.2" y1="305.9" x2="414.2" y2="305.9" stroke="#000" stroke-width="1.7"/>
<line x1="450" y1="305.9" x2="485.8" y2="305.9" stroke="#000" stroke-width="1.7"/>
<line x1="378.9" y1="303.8" x2="378.9" y2="306.4" stroke="#000" stroke-width="1.2"/>
<line x1="414.0" y1="304.4" x2="414.0" y2="306.4" stroke="#000" stroke-width="1.2"/>
<text transform="translate(95.3,337.20) rotate(-90) scale(1.0500,1)" text-anchor="middle" font-weight="bold" font-size="15.4">Unstim-</text>
<text transform="translate(114.1,339.00) rotate(-90) scale(1.0500,1)" text-anchor="middle" font-weight="bold" font-size="15.4">ulated</text>
<text transform="translate(176.4,340.00) rotate(-90) scale(1.1050,1)" text-anchor="middle" font-weight="bold" font-size="15.4">Tetanus</text>
<text transform="translate(195.8,338.40) rotate(-90) scale(1.0720,1)" text-anchor="middle" font-weight="bold" font-size="15.4">toxoid</text>
<text transform="translate(243.5,337.00) rotate(-90) scale(1.0300,1)" text-anchor="middle" font-weight="bold" font-size="15.4">IA2</text>
<text transform="translate(263.0,334.80) rotate(-90) scale(1.0850,1)" text-anchor="middle" font-weight="bold" font-size="15.4">805-817</text>
<text transform="translate(323.5,337.45) rotate(-90) scale(1.0270,1)" text-anchor="middle" font-weight="bold" font-size="15.4">RV-VP7</text>
<text transform="translate(342.6,336.20) rotate(-90) scale(1.0140,1)" text-anchor="middle" font-weight="bold" font-size="15.4">40-52</text>
<text transform="translate(394.0,341.10) rotate(-90) scale(1.0550,1)" text-anchor="middle" font-weight="bold" font-size="15.4">GAD65</text>
<text transform="translate(412.5,337.40) rotate(-90) scale(1.0600,1)" text-anchor="middle" font-weight="bold" font-size="15.4">115-127</text>
<text transform="translate(468.1,337.40) rotate(-90) scale(1.0250,1)" text-anchor="middle" font-weight="bold" font-size="15.4">RV-VP7</text>
<text transform="translate(487.5,344.80) rotate(-90) scale(1.0440,1)" text-anchor="middle" font-weight="bold" font-size="15.4">16-28</text>
<text x="35.50" y="394.2" text-anchor="middle" font-weight="bold" font-size="12.6">Mean</text>
<text x="167.50" y="394.2" text-anchor="middle" font-weight="bold" font-size="12.6">27.9</text>
<text x="204.65" y="394.2" text-anchor="middle" font-weight="bold" font-size="12.6">28.6</text>
<text x="247.75" y="394.2" text-anchor="middle" font-weight="bold" font-size="12.6">3.9</text>
<text x="282.15" y="394.2" text-anchor="middle" font-weight="bold" font-size="12.6">3.5</text>
<text x="319.40" y="394.2" text-anchor="middle" font-weight="bold" font-size="12.6">5.2</text>
<text x="353.15" y="394.2" text-anchor="middle" font-weight="bold" font-size="12.6">3.0</text>
<text x="390.00" y="394.2" text-anchor="middle" font-weight="bold" font-size="12.6">3.5</text>
<text x="424.75" y="394.2" text-anchor="middle" font-weight="bold" font-size="12.6">1.8</text>
<text x="464.40" y="394.2" text-anchor="middle" font-weight="bold" font-size="12.6">2.8</text>
<text x="498.15" y="394.2" text-anchor="middle" font-weight="bold" font-size="12.6">2.2</text>
<text x="33.65" y="408.6" text-anchor="middle" font-weight="bold" font-size="12.6">SD</text>
<text x="168.25" y="408.6" text-anchor="middle" font-weight="bold" font-size="12.6">30.6</text>
<text x="205.00" y="408.6" text-anchor="middle" font-weight="bold" font-size="12.6">45.8</text>
<text x="248.80" y="408.6" text-anchor="middle" font-weight="bold" font-size="12.6">3.6</text>
<text x="282.50" y="408.6" text-anchor="middle" font-weight="bold" font-size="12.6">3.2</text>
<text x="319.15" y="408.6" text-anchor="middle" font-weight="bold" font-size="12.6">5.1</text>
<text x="353.15" y="408.6" text-anchor="middle" font-weight="bold" font-size="12.6">2.6</text>
<text x="390.00" y="408.6" text-anchor="middle" font-weight="bold" font-size="12.6">6.2</text>
<text x="424.75" y="408.6" text-anchor="middle" font-weight="bold" font-size="12.6">1.8</text>
<text x="464.40" y="408.6" text-anchor="middle" font-weight="bold" font-size="12.6">3.3</text>
<text x="498.40" y="408.6" text-anchor="middle" font-weight="bold" font-size="12.6">1.4</text>
<text x="38.05" y="432.7" text-anchor="middle" font-weight="bold" font-size="12.6">Responders</text>
<text x="93.40" y="432.7" text-anchor="middle" font-weight="bold" font-size="12.6">0/52</text>
<text x="123.75" y="432.7" text-anchor="middle" font-weight="bold" font-size="12.6">0/25</text>
<text x="164.50" y="432.7" text-anchor="middle" font-weight="bold" font-size="12.6">49/50</text>
<text x="202.25" y="432.7" text-anchor="middle" font-weight="bold" font-size="12.6">19/50</text>
<text x="246.30" y="432.7" text-anchor="middle" font-weight="bold" font-size="12.6">43/58</text>
<text x="280.40" y="432.7" text-anchor="middle" font-weight="bold" font-size="12.6">17/27</text>
<text x="317.75" y="432.7" text-anchor="middle" font-weight="bold" font-size="12.6">41/49</text>
<text x="353.40" y="432.7" text-anchor="middle" font-weight="bold" font-size="12.6">15/25</text>
<text x="393.15" y="432.7" text-anchor="middle" font-weight="bold" font-size="12.6">15/25</text>
<text x="431.30" y="432.7" text-anchor="middle" font-weight="bold" font-size="12.6">29/54</text>
<text x="469.15" y="432.7" text-anchor="middle" font-weight="bold" font-size="12.6">25/50</text>
<text x="502.65" y="432.7" text-anchor="middle" font-weight="bold" font-size="12.6">16/25</text>
<text x="93.15" y="445.2" text-anchor="middle" font-weight="bold" font-size="12.6">(0)</text>
<text x="122.75" y="445.2" text-anchor="middle" font-weight="bold" font-size="12.6">(0)</text>
<text x="165.00" y="445.2" text-anchor="middle" font-weight="bold" font-size="12.6">(98)</text>
<text x="201.50" y="445.2" text-anchor="middle" font-weight="bold" font-size="12.6">(95)</text>
<text x="244.00" y="445.2" text-anchor="middle" font-weight="bold" font-size="12.6">(74)</text>
<text x="279.90" y="445.2" text-anchor="middle" font-weight="bold" font-size="12.6">(63)</text>
<text x="319.65" y="445.2" text-anchor="middle" font-weight="bold" font-size="12.6">(84)</text>
<text x="355.75" y="445.2" text-anchor="middle" font-weight="bold" font-size="12.6">(60)</text>
<text x="395.40" y="445.2" text-anchor="middle" font-weight="bold" font-size="12.6">(54)</text>
<text x="431.25" y="445.2" text-anchor="middle" font-weight="bold" font-size="12.6">(32)</text>
<text x="470.50" y="445.2" text-anchor="middle" font-weight="bold" font-size="12.6">(50)</text>
<text x="506.65" y="445.2" text-anchor="middle" font-weight="bold" font-size="12.6">(64)</text>
<text x="1.6" y="445.2" font-weight="bold" font-size="12.6" xml:space="preserve">&gt; cutoff  (%)</text>
</svg></body></html>
